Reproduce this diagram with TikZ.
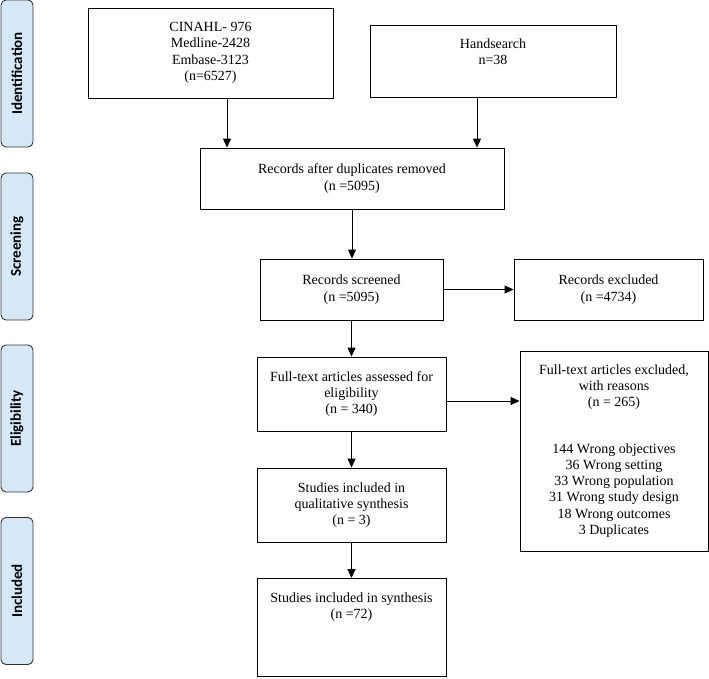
\documentclass[tikz,border=0pt]{standalone}
\usepackage{fontspec}
\setmainfont{Liberation Serif}
\newfontfamily\stagefont{Carlito}
\usetikzlibrary{arrows.meta, positioning}
\definecolor{stageblue}{HTML}{D5E8F7}
\definecolor{edgegray}{HTML}{333333}

\begin{document}
\begin{tikzpicture}[
    x=1pt, y=-1pt,
    every node/.style={font=\fontsize{14}{16.3}\selectfont},
    box/.style={draw, line width=0.9pt, align=center, inner sep=0pt},
    stage/.style={draw=edgegray, line width=0.9pt, rounded corners=5pt, fill=stageblue, minimum width=147pt, minimum height=32pt, inner sep=0pt, rotate=90, font=\fontsize{15}{18}\stagefont\bfseries\selectfont},
    arrow/.style={-{Triangle[length=9pt,width=8pt]}, line width=0.9pt},
]
\useasboundingbox (0,0) rectangle (709,678);
% stage labels
\node[stage] (ident) at (17,73.5) {Identification};
\node[stage] (screen) at (17,246.5) {Screening};
\node[stage] (elig) at (17,418.5) {Eligibility};
\node[stage] (incl) at (17,591) {Included};
% flow boxes
\node[box, minimum width=245pt, minimum height=90pt] (search) at (210.5,53) {CINAHL- 976\\Medline-2428\\Embase-3123\\(n=6527)};
\node[box, minimum width=246pt, inner ysep=13pt, text depth=20pt, anchor=north] (hand) at (493,25) {Handsearch\\n=38};
\node[box, minimum width=304pt, minimum height=61pt] (dedup) at (352,178.5) {Records after duplicates removed\\(n =5095)};
\node[box, minimum width=183pt, minimum height=61pt] (screened) at (351.5,289.5) {Records screened\\(n =5095)};
\node[box, minimum width=189pt, minimum height=61pt] (excluded) at (608.5,289.5) {Records excluded\\(n =4734)};
\node[box, minimum width=189pt, minimum height=74pt] (fulltext) at (351.5,394) {Full-text articles assessed for\\eligibility\\(n = 340)};
\node[box, minimum width=188pt, minimum height=200pt] (reasons) at (614,451) {Full-text articles excluded,\\with reasons\\(n = 265)\\[30pt]144 Wrong objectives\\36 Wrong setting\\33 Wrong population\\31 Wrong study design\\18 Wrong outcomes\\3 Duplicates};
\node[box, minimum width=189pt, minimum height=74pt] (qualit) at (351.5,505) {Studies included in\\qualitative synthesis\\(n = 3)};
\node[box, minimum width=189pt, inner ysep=14pt, text depth=44pt, anchor=north] (synth) at (351.5,578) {Studies included in synthesis\\(n =72)};
% connectors
\draw[arrow] ([xshift=16.5pt]search.south) -- ([xshift=16.5pt]search.south |- dedup.north);
\draw[arrow] ([xshift=-16pt]hand.south) -- ([xshift=-16pt]hand.south |- dedup.north);
\draw[arrow] (dedup.south) -- (dedup.south |- screened.north);
\draw[arrow] (screened.east) -- (excluded.west);
\draw[arrow] (screened.south) -- (screened.south |- fulltext.north);
\draw[arrow] ([yshift=-7pt]fulltext.east) -- ([yshift=-7pt]fulltext.east -| reasons.west);
\draw[arrow] (fulltext.south) -- (fulltext.south |- qualit.north);
\draw[arrow] (qualit.south) -- (qualit.south |- synth.north);
\end{tikzpicture}
\end{document}
